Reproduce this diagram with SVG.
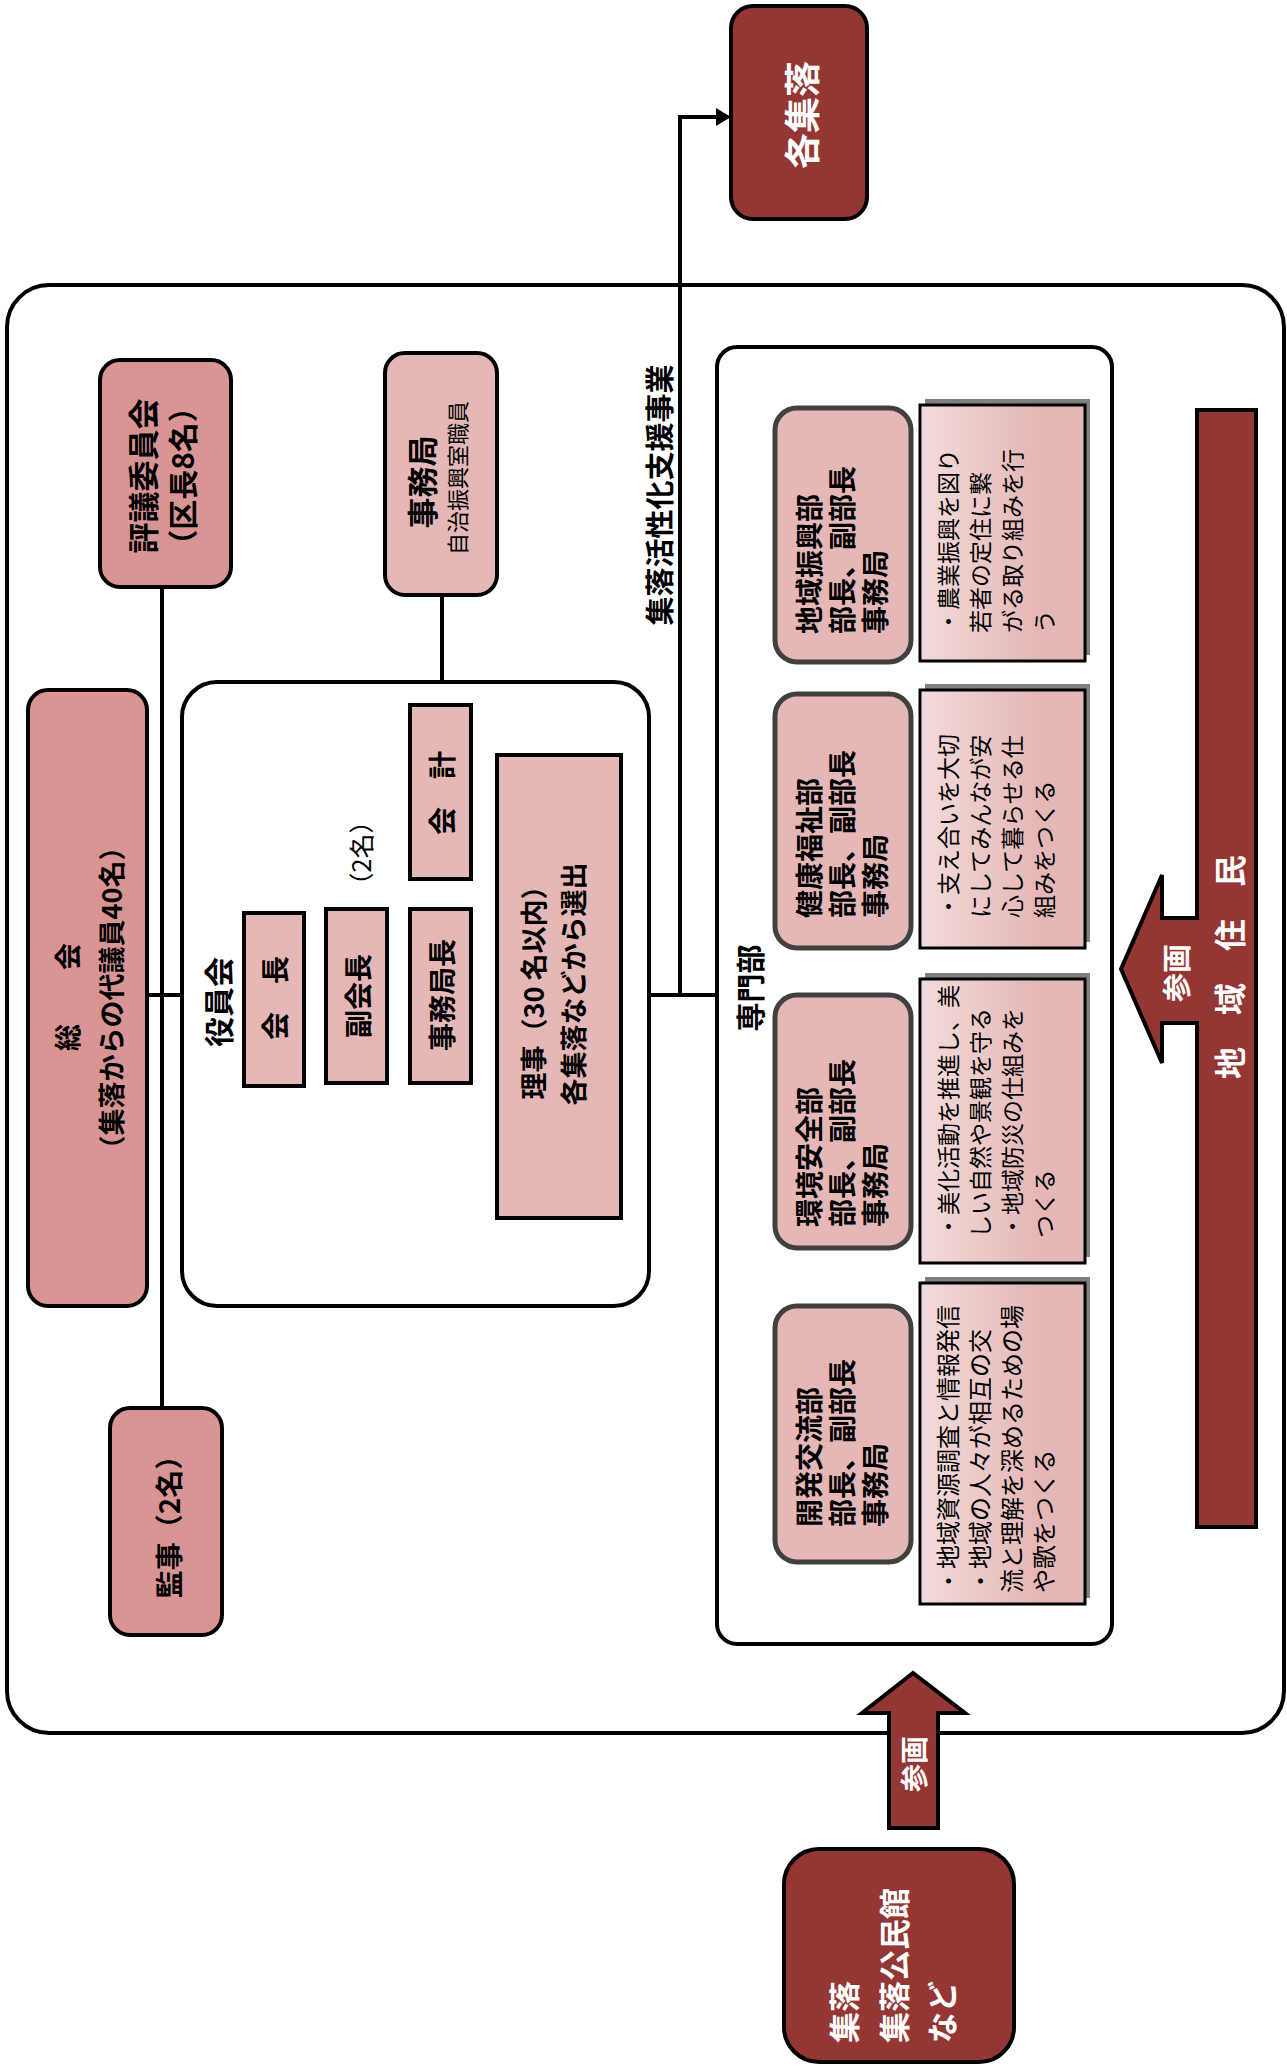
<svg xmlns="http://www.w3.org/2000/svg" width="1287" height="2066" viewBox="0 0 1287 2066">
<style>
  text { font-family: "Noto Sans CJK JP", "Noto Sans", sans-serif; dominant-baseline: central; }
  .b { font-weight: bold; }
  .m { text-anchor: middle; }
  .s { text-anchor: start; }
  .w { fill: #ffffff; }
  .k { fill: #000000; }
  .dark { fill: #943634; stroke: #000; stroke-width: 4; }
  .mid { fill: #D99594; stroke: #000; stroke-width: 4; }
  .lite { fill: #E5B8B7; stroke: #000; stroke-width: 4; }
  .frame { fill: #ffffff; stroke: #000; stroke-width: 4; }
  .dept { fill: #E5B8B7; stroke: #404040; stroke-width: 5; }
  .desc { fill: url(#descGrad); stroke: #000; stroke-width: 3; }
  .shadow { fill: #808080; }
  .conn { stroke: #000; stroke-width: 4; fill: none; }
</style>
<defs>
  <linearGradient id="descGrad" x1="0" y1="0" x2="1" y2="0">
    <stop offset="0" stop-color="#F2DCDB"/>
    <stop offset="0.7" stop-color="#E5B8B7"/>
    <stop offset="1" stop-color="#E5B8B7"/>
  </linearGradient>
</defs>
<rect width="1287" height="2066" fill="#ffffff"/>

<g id="outer-frame">
  <rect class="frame" x="7" y="285" width="1277" height="1448" rx="42"/>
</g>

<g id="kakushuraku">
  <rect class="dark" x="731" y="6" width="136" height="213" rx="22"/>
  <text class="b m w" font-size="36" transform="translate(800 115) rotate(-90)">各集落</text>
</g>

<g id="connectors">
  <line class="conn" x1="147" y1="995" x2="182" y2="995"/>
  <line class="conn" x1="304" y1="995" x2="326" y2="995"/>
  <line class="conn" x1="387" y1="995" x2="410" y2="995"/>
  <line class="conn" x1="471" y1="995" x2="497" y2="995"/>
  <line class="conn" x1="649" y1="995" x2="717" y2="995"/>
  <line class="conn" x1="162" y1="587" x2="162" y2="1408"/>
  <line class="conn" x1="442" y1="595" x2="442" y2="682"/>
  <line class="conn" x1="442" y1="879" x2="442" y2="909"/>
  <polyline class="conn" points="680,995 680,117 718,117"/>
  <polygon points="731,117 716,108 716,126" fill="#000"/>
</g>

<g id="hyogi">
  <rect class="mid" x="100" y="360" width="131" height="227" rx="20"/>
  <text class="b m k" font-size="31" transform="translate(141 476) rotate(-90)">評議委員会</text>
  <text class="b m k" font-size="30" transform="translate(181 476) rotate(-90)">（区長8名）</text>
</g>

<g id="jimukyoku">
  <rect class="lite" x="385" y="353" width="112" height="242" rx="20"/>
  <text class="b m k" font-size="31" transform="translate(420 482) rotate(-90)">事務局</text>
  <text class="m k" font-size="22" transform="translate(456 478) rotate(-90)">自治振興室職員</text>
</g>

<g id="shien-label">
  <text class="b m k" font-size="29" transform="translate(658 495) rotate(-90)">集落活性化支援事業</text>
</g>

<g id="sokai">
  <rect class="mid" x="28" y="690" width="119" height="616" rx="20"/>
  <text class="b m k" font-size="27" transform="translate(66 997) rotate(-90)">総　　会</text>
  <text class="b m k" font-size="27" transform="translate(110 998) rotate(-90)">（集落からの代議員40名）</text>
</g>

<g id="kanji">
  <rect class="mid" x="110" y="1408" width="112" height="227" rx="20"/>
  <text class="b m k" font-size="28" transform="translate(168 1520) rotate(-90)">監事（2名）</text>
</g>

<g id="yakuinkai">
  <rect class="frame" x="182" y="682" width="467" height="624" rx="35"/>
  <text class="b m k" font-size="30" transform="translate(217 1002) rotate(-90)">役員会</text>
</g>

<g id="kaicho">
  <rect class="lite" x="244" y="913" width="60" height="173"/>
  <text class="b m k" font-size="28" transform="translate(274 998) rotate(-90)">会　長</text>
</g>

<g id="fukukaicho">
  <rect class="lite" x="326" y="909" width="61" height="174"/>
  <text class="b m k" font-size="28" transform="translate(357 996) rotate(-90)">副会長</text>
  <text class="m k" font-size="25" transform="translate(360 853) rotate(-90)">（2名）</text>
</g>

<g id="jimukyokucho">
  <rect class="lite" x="410" y="909" width="61" height="174"/>
  <text class="b m k" font-size="28" transform="translate(441 995) rotate(-90)">事務局長</text>
</g>

<g id="kaikei">
  <rect class="lite" x="410" y="705" width="61" height="174"/>
  <text class="b m k" font-size="28" transform="translate(441 793) rotate(-90)">会　計</text>
</g>

<g id="riji">
  <rect class="lite" x="497" y="755" width="124" height="463"/>
  <text class="b m k" font-size="27" transform="translate(532 986) rotate(-90)">理事（30 名以内）</text>
  <text class="b m k" font-size="27" transform="translate(572 984) rotate(-90)">各集落などから選出</text>
</g>

<g id="senmonbu">
  <rect class="frame" x="717" y="347" width="395" height="1297" rx="20"/>
  <text class="b m k" font-size="29" transform="translate(749 988) rotate(-90)">専門部</text>
</g>

<g id="dept-chiiki">
  <rect class="dept" x="775" y="408" width="136" height="254" rx="22"/>
  <text class="b s k" font-size="28" transform="translate(808 634) rotate(-90)">地域振興部</text>
  <text class="b s k" font-size="28" transform="translate(841 634) rotate(-90)">部長、副部長</text>
  <text class="b s k" font-size="28" transform="translate(874 634) rotate(-90)">事務局</text>
</g>
<g id="desc-chiiki">
  <rect class="shadow" x="925" y="399" width="165" height="256"/>
  <rect class="desc" x="920" y="405" width="165" height="256"/>
  <text class="s k" font-size="23" transform="translate(947 633) rotate(-90)">・農業振興を図り</text>
  <text class="s k" font-size="23" transform="translate(979 633) rotate(-90)">若者の定住に繋</text>
  <text class="s k" font-size="23" transform="translate(1011 633) rotate(-90)">がる取り組みを行</text>
  <text class="s k" font-size="23" transform="translate(1043 633) rotate(-90)">う</text>
</g>

<g id="dept-kenko">
  <rect class="dept" x="775" y="694" width="136" height="254" rx="22"/>
  <text class="b s k" font-size="28" transform="translate(808 918) rotate(-90)">健康福祉部</text>
  <text class="b s k" font-size="28" transform="translate(841 918) rotate(-90)">部長、副部長</text>
  <text class="b s k" font-size="28" transform="translate(874 918) rotate(-90)">事務局</text>
</g>
<g id="desc-kenko">
  <rect class="shadow" x="925" y="684" width="165" height="258"/>
  <rect class="desc" x="920" y="690" width="165" height="258"/>
  <text class="s k" font-size="23" transform="translate(947 918) rotate(-90)">・支え合いを大切</text>
  <text class="s k" font-size="23" transform="translate(979 918) rotate(-90)">にしてみんなが安</text>
  <text class="s k" font-size="23" transform="translate(1011 918) rotate(-90)">心して暮らせる仕</text>
  <text class="s k" font-size="23" transform="translate(1043 918) rotate(-90)">組みをつくる</text>
</g>

<g id="dept-kankyo">
  <rect class="dept" x="775" y="995" width="136" height="253" rx="22"/>
  <text class="b s k" font-size="28" transform="translate(808 1227) rotate(-90)">環境安全部</text>
  <text class="b s k" font-size="28" transform="translate(841 1227) rotate(-90)">部長、副部長</text>
  <text class="b s k" font-size="28" transform="translate(874 1227) rotate(-90)">事務局</text>
</g>
<g id="desc-kankyo">
  <rect class="shadow" x="925" y="973" width="165" height="284"/>
  <rect class="desc" x="920" y="979" width="165" height="284"/>
  <text class="s k" font-size="23" transform="translate(947 1238) rotate(-90)">・美化活動を推進し、美</text>
  <text class="s k" font-size="23" transform="translate(979 1238) rotate(-90)">しい自然や景観を守る</text>
  <text class="s k" font-size="23" transform="translate(1011 1238) rotate(-90)">・地域防災の仕組みを</text>
  <text class="s k" font-size="23" transform="translate(1043 1238) rotate(-90)">つくる</text>
</g>

<g id="dept-kaihatsu">
  <rect class="dept" x="775" y="1306" width="136" height="256" rx="22"/>
  <text class="b s k" font-size="28" transform="translate(808 1527) rotate(-90)">開発交流部</text>
  <text class="b s k" font-size="28" transform="translate(841 1527) rotate(-90)">部長、副部長</text>
  <text class="b s k" font-size="28" transform="translate(874 1527) rotate(-90)">事務局</text>
</g>
<g id="desc-kaihatsu">
  <rect class="shadow" x="925" y="1277" width="165" height="321"/>
  <rect class="desc" x="920" y="1283" width="165" height="321"/>
  <text class="s k" font-size="24" transform="translate(946 1593) rotate(-90)">・地域資源調査と情報発信</text>
  <text class="s k" font-size="24" transform="translate(978 1593) rotate(-90)">・地域の人々が相互の交</text>
  <text class="s k" font-size="24" transform="translate(1010 1593) rotate(-90)">流と理解を深めるための場</text>
  <text class="s k" font-size="24" transform="translate(1042 1593) rotate(-90)">や歌をつくる</text>
</g>

<g id="chiiki-jumin">
  <rect class="dark" x="1197" y="410" width="59" height="1117"/>
  <path class="dark" d="M1199,918 H1162 V875 L1121,969 L1162,1063 V1023 H1199"/>
  <text class="b m w" font-size="32" transform="translate(1228 967) rotate(-90)">地　域　住　民</text>
  <text class="b m w" font-size="29" transform="translate(1175 973) rotate(-90)">参画</text>
</g>

<g id="sankaku-arrow">
  <path class="dark" d="M889,1828 V1713 H862 L913,1673 L965,1713 H938 V1828 Z"/>
  <text class="b m w" font-size="28" transform="translate(913 1764) rotate(-90)">参画</text>
</g>

<g id="shuraku">
  <rect class="dark" x="784" y="1849" width="230" height="213" rx="35"/>
  <text class="b s w" font-size="31" transform="translate(842 2043) rotate(-90)">集落</text>
  <text class="b s w" font-size="31" transform="translate(892 2043) rotate(-90)">集落公民館</text>
  <text class="b s w" font-size="31" transform="translate(940 2043) rotate(-90)">など</text>
</g>
</svg>
